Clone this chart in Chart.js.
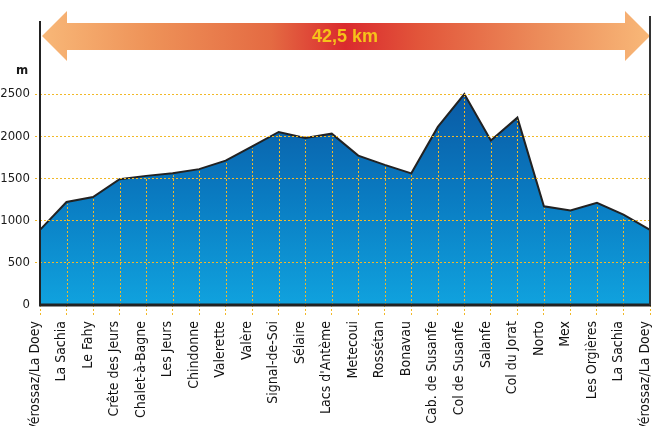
<!DOCTYPE html>
<html>
<head>
<meta charset="utf-8">
<script src="https://cdn.jsdelivr.net/npm/chart.js@4/dist/chart.umd.min.js"></script>
<style>
  html, body { margin: 0; padding: 0; background: #fff; }
  #wrap { width: 654px; height: 426px; }
</style>
</head>
<body>
<div id="wrap"><canvas id="profile"></canvas></div>
<script>
const places = ["Vérossaz/La Doey", "La Sachia", "Le Fahy", "Crête des Jeurs", "Chalet-à-Bagne",
  "Les Jeurs", "Chindonne", "Valerette", "Valère", "Signal-de-Soi", "Sélaire", "Lacs d'Antème",
  "Metecoui", "Rossétan", "Bonavau", "Cab. de Susanfe", "Col de Susanfe", "Salanfe",
  "Col du Jorat", "Norto", "Mex", "Les Orgières", "La Sachia", "Vérossaz/La Doey"];
const altitude = [890, 1220, 1280, 1490, 1530, 1560, 1610, 1710, 1880, 2050, 1980, 2030,
  1770, 1660, 1560, 2110, 2500, 1950, 2220, 1170, 1120, 1210, 1070, 890];
const yTicks = [0, 500, 1000, 1500, 2000, 2500];
const distance = "42,5 km";
const unit = "m";

const gridYellow = "#f2b928";
const narrow = "'Liberation Sans Narrow', 'DejaVu Sans Condensed', sans-serif";

// arrow banner, "m" label, vertical dotted lines and the frame
const decor = {
  id: "decor",
  beforeDraw(chart) {
    const ctx = chart.ctx;
    const { left, right } = chart.chartArea;
    ctx.save();
    const g = ctx.createLinearGradient(left, 0, right, 0);
    g.addColorStop(0, "#f8b878");
    g.addColorStop(0.18, "#ee9258");
    g.addColorStop(0.38, "#e46a42");
    g.addColorStop(0.5, "#da2a2e");
    g.addColorStop(0.62, "#e2553a");
    g.addColorStop(0.82, "#ec8c5a");
    g.addColorStop(1, "#f8b878");
    ctx.fillStyle = g;
    ctx.beginPath();
    ctx.moveTo(left + 2, 36);
    ctx.lineTo(67, 11);
    ctx.lineTo(67, 23);
    ctx.lineTo(625, 23);
    ctx.lineTo(625, 11);
    ctx.lineTo(right, 36);
    ctx.lineTo(625, 61);
    ctx.lineTo(625, 50);
    ctx.lineTo(67, 50);
    ctx.lineTo(67, 61);
    ctx.closePath();
    ctx.fill();
    ctx.fillStyle = "#f6c21a";
    ctx.font = "bold 18px 'Liberation Sans', Arial, sans-serif";
    ctx.textAlign = "center";
    ctx.textBaseline = "middle";
    ctx.fillText(distance, (left + right) / 2, 37);
    ctx.fillStyle = "#1a1a1a";
    ctx.font = "bold 13px " + narrow;
    ctx.fillText(unit, 22, 71);
    ctx.restore();
  },
  afterDatasetsDraw(chart) {
    const ctx = chart.ctx;
    const meta = chart.getDatasetMeta(0);
    const { bottom } = chart.chartArea;
    ctx.save();
    ctx.strokeStyle = gridYellow;
    ctx.lineWidth = 1;
    ctx.setLineDash([2, 2]);
    meta.data.forEach((pt, i) => {
      if (i === 0 || i === meta.data.length - 1) return;
      const x = Math.round(pt.x) + 0.5;
      ctx.beginPath();
      ctx.moveTo(x, bottom);
      ctx.lineTo(x, pt.y + 2);
      ctx.stroke();
    });
    ctx.restore();
  },
  afterDraw(chart) {
    const ctx = chart.ctx;
    const { left, right, top, bottom } = chart.chartArea;
    ctx.save();
    ctx.strokeStyle = "#222";
    ctx.lineWidth = 2;
    ctx.beginPath();
    ctx.moveTo(left, top);
    ctx.lineTo(left, bottom);
    ctx.stroke();
    ctx.lineWidth = 3;
    ctx.beginPath();
    ctx.moveTo(left - 1, bottom);
    ctx.lineTo(right + 1, bottom);
    ctx.stroke();
    ctx.strokeStyle = "#333";
    ctx.lineWidth = 2;
    ctx.beginPath();
    ctx.moveTo(right, 16);
    ctx.lineTo(right, bottom);
    ctx.stroke();
    ctx.restore();
  }
};

new Chart(document.getElementById("profile"), {
  type: "line",
  data: {
    labels: places,
    datasets: [{
      data: altitude,
      borderColor: "#222",
      borderWidth: 2,
      tension: 0,
      pointRadius: 0,
      fill: "origin",
      backgroundColor: ctx => {
        const area = ctx.chart.chartArea;
        if (!area) return "#0a70b8";
        const g = ctx.chart.ctx.createLinearGradient(0, 94, 0, area.bottom);
        g.addColorStop(0, "#0a5aa4");
        g.addColorStop(0.5, "#0a7cc2");
        g.addColorStop(1, "#10a2de");
        return g;
      }
    }]
  },
  options: {
    responsive: true,
    maintainAspectRatio: false,
    animation: false,
    layout: { padding: { top: 21, right: 4, left: 0, bottom: 0 } },
    plugins: { legend: { display: false }, tooltip: { enabled: false } },
    scales: {
      x: {
        afterFit: s => { s.height = 121; s.paddingRight = 0; s.paddingLeft = 0; },
        grid: {
          drawOnChartArea: false,
          tickLength: 12,
          tickColor: gridYellow,
          tickBorderDash: [2, 2]
        },
        border: { display: false },
        ticks: {
          autoSkip: false,
          minRotation: 90,
          maxRotation: 90,
          padding: 4,
          labelOffset: -5,
          color: "#111",
          font: { family: narrow, size: 14 }
        }
      },
      y: {
        min: 0,
        max: 3365,
        afterBuildTicks: s => { s.ticks = yTicks.map(v => ({ value: v })); },
        afterFit: s => { s.width = 40; s.paddingTop = 0; s.paddingBottom = 0; },
        grid: {
          z: 1,
          color: c => c.tick && c.tick.value === 0 ? "rgba(0,0,0,0)" : gridYellow,
          tickLength: 5,
          tickColor: c => c.tick && c.tick.value === 0 ? "rgba(0,0,0,0)" : gridYellow,
          tickBorderDash: [2, 2]
        },
        border: { display: false, dash: [2, 2] },
        ticks: {
          padding: 5,
          color: "#1a1a1a",
          font: { family: narrow, size: 13 },
          callback: v => String(v)
        }
      }
    }
  },
  plugins: [decor]
});
</script>
</body>
</html>
